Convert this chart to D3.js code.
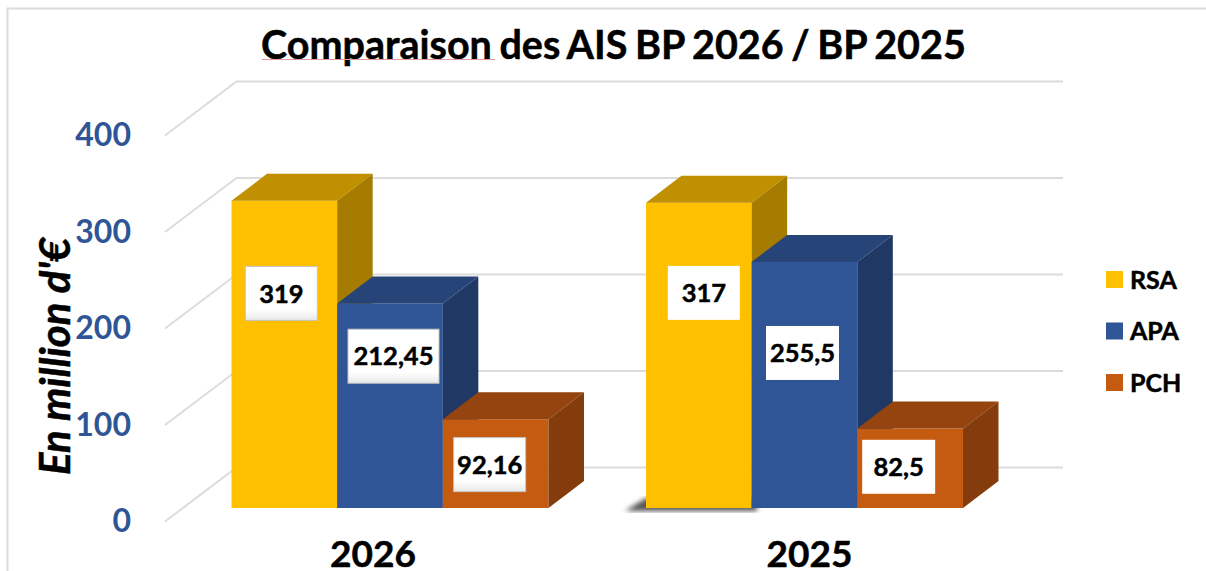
<!DOCTYPE html>
<html>
<head>
<meta charset="utf-8">
<script src="https://d3js.org/d3.v7.min.js"></script>
<style>
body { margin: 0; background: #fff; }
text { font-family: Lato, "Open Sans", sans-serif; font-weight: 700; }
.heavy { stroke: #000; stroke-width: 0.5; }
</style>
</head>
<body>
<div id="chart-area"></div>
<script>
var categories = ["2026", "2025"];
var seriesNames = ["RSA", "APA", "PCH"];
var rsa = [319, 317];
var apa = [212.45, 255.5];
var pch = [92.16, 82.5];
var yTicks = [0, 100, 200, 300, 400];

// front, top, side of each series
var faceColors = {
    RSA: ["#FFC000", "#C09000", "#A67C00"],
    APA: ["#2F5597", "#264478", "#203864"],
    PCH: ["#C55A11", "#95440F", "#843C0C"]
};

// the labels were moved by hand in the original, so they sit off centre
var labelShift = [
    [[-3, -61], [3.5, -49.5], [-6, 1]],
    [[5, -62.5], [-2, -32], [-11.5, -1.5]]
];
var labelWidth = [[72, 91, 72], [72, 73, 73]];
var catShift = [-17, 5];

var svg_width = 1206;
var svg_height = 571;
var depth_x = 35.5;
var depth_y = 27;

var svg = d3.select("#chart-area").append("svg")
    .attr("width", svg_width)
    .attr("height", svg_height);

var defs = svg.append("defs");
defs.append("filter").attr("id", "blur").append("feGaussianBlur").attr("stdDeviation", 2.5);
var bevel = defs.append("linearGradient").attr("id", "bevel")
    .attr("x1", 0).attr("y1", 0).attr("x2", 0).attr("y2", 1);
bevel.append("stop").attr("offset", "0.8").attr("stop-color", "#fff");
bevel.append("stop").attr("offset", "1").attr("stop-color", "#e8e8e8");

// frame of the pasted picture, cut off at right and bottom
svg.append("path")
    .attr("d", "M7.5," + svg_height + "V8.5H" + svg_width)
    .attr("fill", "none")
    .attr("stroke", "#dcdcdc")
    .attr("stroke-width", 2);

var x = d3.scaleBand()
    .domain(categories)
    .range([231.5, 963])
    .paddingInner(0.2352);

var xSeries = d3.scaleBand()
    .domain(seriesNames)
    .range([0, x.bandwidth()]);

// axis plane at the front of the floor, back wall is the same shifted
var yFront = d3.scaleLinear().domain([0, 400]).range([521.5, 135.5]);
var wall_dx = 71.5;
var wall_dy = 54;
var wall_right = 1063;

// bars stand half way in the floor
var yBar = d3.scaleLinear().domain([0, 400]).range([508, 122.8]);

var grid = svg.append("g")
    .selectAll("path")
    .data(yTicks)
    .enter()
    .append("path")
        .attr("d", (d) => {
            return "M165," + yFront(d) + "L" + (165 + wall_dx) + "," + (yFront(d) - wall_dy) + "H" + wall_right;
        })
        .attr("fill", "none")
        .attr("stroke", "#dcdcdc")
        .attr("stroke-width", 2);

var yAxis = d3.axisLeft(yFront)
    .tickValues(yTicks)
    .tickSize(0)
    .tickPadding(34);

var axisG = svg.append("g")
    .attr("transform", "translate(165,0)")
    .call(yAxis);
axisG.select(".domain").remove();
axisG.selectAll("text")
    .attr("fill", "#2F5597")
    .style("font-size", "32px");

svg.append("text")
    .attr("class", "heavy")
    .attr("transform", "translate(70,475) rotate(-90)")
    .attr("font-style", "italic")
    .style("font-size", "42px")
    .text("En million d'€");

var title = svg.append("text")
    .attr("class", "heavy")
    .attr("x", 261)
    .attr("y", 59)
    .attr("word-spacing", -2)
    .style("font-size", "39.5px")
    .text("Comparaison des AIS BP 2026 / BP 2025");

// thin pink underline of the first word
svg.append("line")
    .attr("x1", 262)
    .attr("x2", 495)
    .attr("y1", 59.5)
    .attr("y2", 59.5)
    .attr("stroke", "#e29a9a")
    .attr("stroke-width", 1);

// shadow under the first 2025 bar
svg.append("path")
    .attr("d", "M625,511L646,498H757V511Z")
    .attr("fill", "#555")
    .attr("filter", "url(#blur)");

var bars = [];
categories.forEach((c, i) => {
    [rsa, apa, pch].forEach((values, j) => {
        bars.push({ cat: c, i: i, name: seriesNames[j], j: j, value: values[i] });
    });
});

var barG = svg.selectAll("g.bar")
    .data(bars)
    .enter()
    .append("g")
        .attr("class", "bar");

function left(d) { return x(d.cat) + xSeries(d.name); }
function right(d) { return left(d) + xSeries.bandwidth(); }

barG.append("rect")
    .attr("x", left)
    .attr("y", (d) => { return yBar(d.value); })
    .attr("width", xSeries.bandwidth())
    .attr("height", (d) => { return yBar(0) - yBar(d.value); })
    .attr("fill", (d) => { return faceColors[d.name][0]; });

barG.append("polygon")
    .attr("points", (d) => {
        var t = yBar(d.value);
        return [[left(d), t], [right(d), t], [right(d) + depth_x, t - depth_y], [left(d) + depth_x, t - depth_y]].join(" ");
    })
    .attr("fill", (d) => { return faceColors[d.name][1]; });

barG.append("polygon")
    .attr("points", (d) => {
        var t = yBar(d.value);
        var b = yBar(0);
        return [[right(d), t], [right(d) + depth_x, t - depth_y], [right(d) + depth_x, b - depth_y], [right(d), b]].join(" ");
    })
    .attr("fill", (d) => { return faceColors[d.name][2]; });

function labelX(d) { return left(d) + xSeries.bandwidth() / 2 + labelShift[d.i][d.j][0]; }
function labelY(d) { return (yBar(d.value) + yBar(0)) / 2 + labelShift[d.i][d.j][1]; }

barG.append("rect")
    .attr("x", (d) => { return labelX(d) - labelWidth[d.i][d.j] / 2; })
    .attr("y", (d) => { return labelY(d) - 27; })
    .attr("width", (d) => { return labelWidth[d.i][d.j]; })
    .attr("height", 54)
    .attr("fill", (d) => { return d.i == 0 ? "url(#bevel)" : "#fff"; })
    .attr("stroke", (d) => { return d.i == 0 ? "#c4c4c4" : "none"; });

barG.append("text")
    .attr("class", "heavy")
    .attr("x", labelX)
    .attr("y", labelY)
    .attr("dy", "0.36em")
    .attr("text-anchor", "middle")
    .style("font-size", "25.5px")
    .text((d) => { return String(d.value).replace(".", ","); });

svg.selectAll("text.cat")
    .data(categories)
    .enter()
    .append("text")
        .attr("class", "cat heavy")
        .attr("x", (d, i) => { return x(d) + x.bandwidth() / 2 + catShift[i]; })
        .attr("y", 567)
        .attr("text-anchor", "middle")
        .style("font-size", "37px")
        .text((d) => { return d; });

var legendY = d3.scalePoint().domain(seriesNames).range([279.5, 382.5]);

var legend = svg.selectAll("g.legend")
    .data(seriesNames)
    .enter()
    .append("g")
        .attr("class", "legend")
        .attr("transform", (d) => { return "translate(1106," + legendY(d) + ")"; });

legend.append("rect")
    .attr("y", -8.5)
    .attr("width", 17)
    .attr("height", 17)
    .attr("fill", (d) => { return faceColors[d][0]; });

legend.append("text")
    .attr("class", "heavy")
    .attr("x", 24)
    .attr("dy", "0.36em")
    .style("font-size", "25px")
    .text((d) => { return d; });
</script>
</body>
</html>
